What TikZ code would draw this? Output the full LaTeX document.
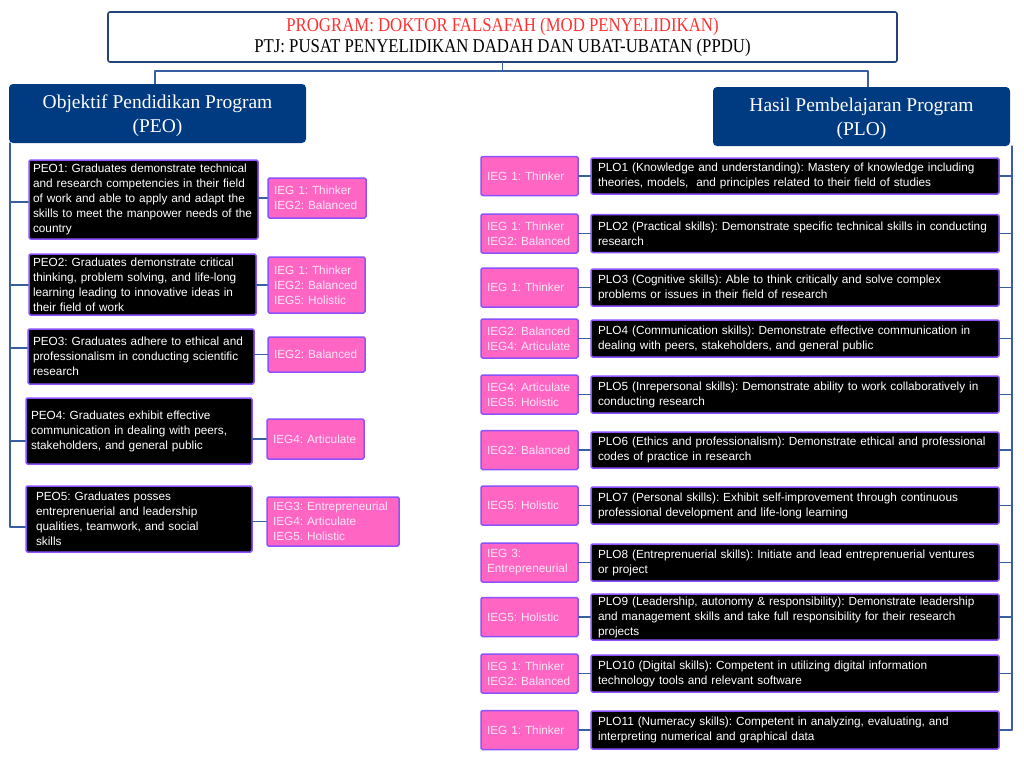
\documentclass[tikz,border=0pt]{standalone}
\usepackage{fontspec}
\setmainfont{Liberation Sans}
\newfontfamily\headfont{Liberation Serif}
\newfontfamily\titlefont[FakeStretch=0.86]{Liberation Serif}
\usepackage{xcolor}
\usepackage{tikz}
\usetikzlibrary{positioning}
\frenchspacing
\definecolor{navy}{HTML}{003A80}
\definecolor{frameblue}{HTML}{23427A}
\definecolor{linkblue}{HTML}{3A5FA0}
\definecolor{titlered}{HTML}{FF3131}
\definecolor{iegpink}{HTML}{FF66C4}
\definecolor{iegtext}{HTML}{FFE6F5}
\definecolor{edgeviolet}{HTML}{8C52FF}
\tikzset{
    every picture/.style={line cap=round,line join=round},
    titlebox/.style={draw=frameblue,fill=white,line width=1.6pt,rounded corners=2pt,
      minimum width=789pt,minimum height=50pt,inner sep=2pt,align=center,
      font=\titlefont\fontsize{19.5}{21}\selectfont},
    headbox/.style={fill=navy,rounded corners=4pt,minimum width=297pt,minimum height=59pt,
      inner sep=2pt,align=center,text=white,font=\headfont\fontsize{19.5}{24}\selectfont},
    descbox/.style={fill=black,draw=edgeviolet,line width=1.5pt,rounded corners=1.5pt,
      text=white,align=left,inner xsep=7pt,inner ysep=2pt,font=\fontsize{11.8}{15}\selectfont},
    iegbox/.style={fill=iegpink,draw=edgeviolet,line width=1.5pt,rounded corners=1.5pt,
      text=iegtext,align=left,inner xsep=6pt,inner ysep=2pt,font=\fontsize{11.8}{15}\selectfont},
    link/.style={draw=linkblue,line width=1.3pt}
}
\begin{document}
\begin{tikzpicture}[x=1pt,y=-1pt]
  \fill[white] (0,0) rectangle (1024,768);
  \useasboundingbox (0,0) rectangle (1024,768);
  % title and the two headers
  \node[titlebox] (title) at (502.5,37)
    {\textcolor{titlered}{PROGRAM: DOKTOR FALSAFAH (MOD PENYELIDIKAN)}\\
     PTJ: PUSAT PENYELIDIKAN DADAH DAN UBAT-UBATAN (PPDU)};
  \node[headbox,text depth=-3pt] (peoh) at (157.5,113.5) {Objektif Pendidikan Program\\(PEO)};
  \node[headbox,text depth=-3pt] (ploh) at (861.5,116.5) {Hasil Pembelajaran Program\\(PLO)};
  \coordinate (busl) at (155,71);
  \coordinate (busr) at (868,71);
  \draw[link] (title.south) -- (title.south |- busl);
  \draw[link] (busl |- peoh.north) -- (busl) -- (busr) -- (busr |- ploh.north);
  % PEO column
  \node[descbox,inner xsep=4pt,text width=221pt,minimum height=79pt] (peo1) at (143.5,199.5)
    {PEO1: Graduates demonstrate technical\\and research competencies in their field\\of work and able to apply and adapt the\\skills to meet the manpower needs of the\\country};
  \node[descbox,inner xsep=4pt,text width=219pt,minimum height=61pt] (peo2) at (142.5,284.5)
    {PEO2: Graduates demonstrate critical\\thinking, problem solving, and life-long\\learning leading to innovative ideas in\\their field of work};
  \node[descbox,inner xsep=5pt,text width=216pt,minimum height=55pt] (peo3) at (141,356.5)
    {PEO3: Graduates adhere to ethical and\\professionalism in conducting scientific\\research};
  \node[descbox,inner xsep=5pt,text width=216pt,minimum height=66pt] (peo4) at (139,431)
    {PEO4: Graduates exhibit effective\\communication in dealing with peers,\\stakeholders, and general public};
  \node[descbox,inner xsep=10pt,text width=206pt,minimum height=66pt] (peo5) at (139,519)
    {PEO5: Graduates posses\\entreprenuerial and leadership\\qualities, teamwork, and social\\skills};
  \node[iegbox,text width=86pt,minimum height=40pt] (pieg1) at (317,198) {IEG 1: Thinker\\IEG2: Balanced};
  \node[iegbox,text width=85pt,minimum height=56pt] (pieg2) at (316.5,285) {IEG 1: Thinker\\IEG2: Balanced\\IEG5: Holistic};
  \node[iegbox,text width=85pt,minimum height=35pt] (pieg3) at (316.5,354.5) {IEG2: Balanced};
  \node[iegbox,text width=85pt,minimum height=40pt] (pieg4) at (315.5,439) {IEG4: Articulate};
  \node[iegbox,text width=120pt,minimum height=49pt] (pieg5) at (333,521.5) {IEG3: Entrepreneurial\\IEG4: Articulate\\IEG5: Holistic};
  \foreach \i in {1,...,5}
    \draw[link] (peo\i.east |- pieg\i.west) -- (pieg\i.west);
  \coordinate (ltrunk) at (10,143);
  \coordinate (lend) at (10,527);
  \draw[link] (ltrunk) -- (lend);
  \foreach \i/\y in {1/202,2/285,3/348,4/441,5/527}{
    \coordinate (lb\i) at (10,\y);
    \draw[link] (lb\i) -- (lb\i -| peo\i.west);}
  % PLO column
  \foreach \i/\y/\h/\ieg/\txt in {
    1/176/36/{IEG 1: Thinker}/{PLO1 (Knowledge and understanding): Mastery of knowledge including\\theories, models,~ and principles related to their field of studies},
    2/233.5/38/{IEG 1: Thinker\\IEG2: Balanced}/{PLO2 (Practical skills): Demonstrate specific technical skills in conducting\\research},
    3/287.5/37/{IEG 1: Thinker}/{PLO3 (Cognitive skills): Able to think critically and solve complex\\problems or issues in their field of research},
    4/338.5/37/{IEG2: Balanced\\IEG4: Articulate}/{PLO4 (Communication skills): Demonstrate effective communication in\\dealing with peers, stakeholders, and general public},
    5/394.5/37/{IEG4: Articulate\\IEG5: Holistic}/{PLO5 (Inrepersonal skills): Demonstrate ability to work collaboratively in\\conducting research},
    6/450/36/{IEG2: Balanced}/{PLO6 (Ethics and professionalism): Demonstrate ethical and professional\\codes of practice in research},
    7/505.5/37/{IEG5: Holistic}/{PLO7 (Personal skills): Exhibit self-improvement through continuous\\professional development and life-long learning},
    8/562.5/37/{IEG 3:\\Entrepreneurial}/{PLO8 (Entreprenuerial skills): Initiate and lead entreprenuerial ventures\\or project},
    9/617/46/{IEG5: Holistic}/{PLO9 (Leadership, autonomy \& responsibility): Demonstrate leadership\\and management skills and take full responsibility for their research\\projects},
    10/673.5/37/{IEG 1: Thinker\\IEG2: Balanced}/{PLO10 (Digital skills): Competent in utilizing digital information\\technology tools and relevant software},
    11/730/38/{IEG 1: Thinker}/{PLO11 (Numeracy skills): Competent in analyzing, evaluating, and\\interpreting numerical and graphical data}}{
    \node[descbox,text width=394pt,minimum height=\h pt] (plo\i) at (795,\y) {\txt};
    \node[iegbox,text width=85pt,minimum height=39pt] (lieg\i) at (529.5,\y) {\ieg};
    \draw[link] (lieg\i.east) -- (lieg\i.east -| plo\i.west);}
  \coordinate (rtrunk) at (1012,146);
  \coordinate (rend) at (1012,730);
  \draw[link] (rtrunk) -- (rend);
  \foreach \i in {1,...,11}
    \draw[link] (plo\i.east) -- (plo\i.east -| rtrunk);
\end{tikzpicture}
\end{document}
